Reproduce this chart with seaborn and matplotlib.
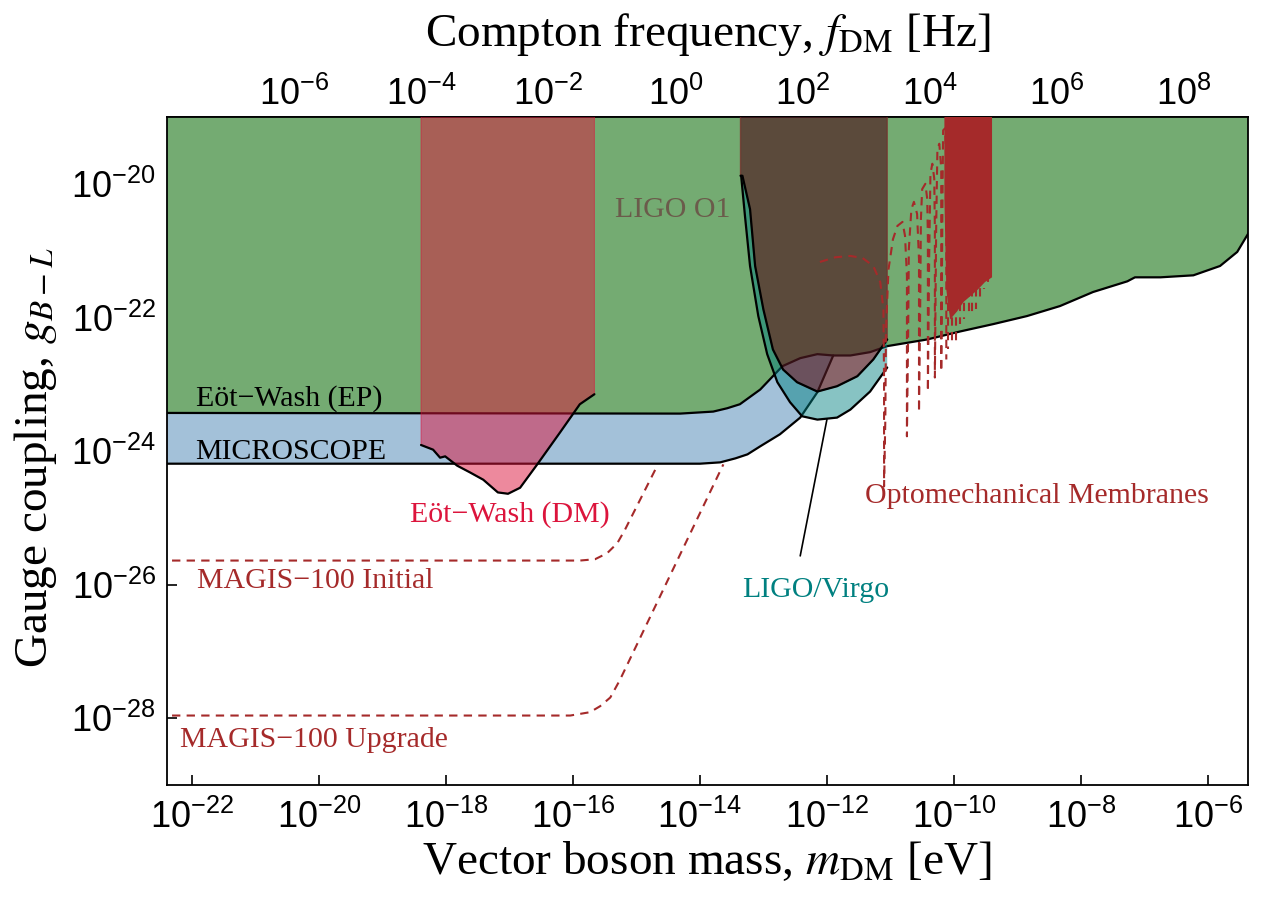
import numpy as np
import matplotlib
matplotlib.use("Agg")
import matplotlib.pyplot as plt
import seaborn as sns
from matplotlib.ticker import NullLocator

# every curve is stored as log10(m_DM / eV) and log10(g_B-L)
# Eot-Wash equivalence principle test (upper edge of the allowed region)
ep_logm = [-22.5, -14.31, -13.79, -13.57, -13.37, -13.05, -12.85, -12.70, -12.42, -12.15,
           -11.90, -11.63, -11.32, -11.05, -10.42, -9.90, -9.38, -8.85, -8.33, -7.81,
           -7.27, -7.15, -6.75, -6.23, -5.81, -5.54, -5.37, -5.3]
ep_logg = [-23.43, -23.44, -23.41, -23.36, -23.30, -23.08, -22.88, -22.73, -22.61, -22.55,
           -22.57, -22.57, -22.52, -22.43, -22.33, -22.21, -22.10, -21.98, -21.83, -21.62,
           -21.46, -21.40, -21.40, -21.37, -21.23, -21.02, -20.75, -20.62]

# MICROSCOPE
ms_logm = [-22.5, -14.00, -13.68, -13.44, -13.25, -13.05, -12.74, -12.42, -12.15, -11.90]
ms_logg = [-24.19, -24.19, -24.17, -24.11, -24.05, -23.93, -23.75, -23.50, -23.12, -22.57]

# Eot-Wash dark matter search
dm_logm = [-18.39, -18.20, -18.09, -18.01, -17.82, -17.62, -17.41, -17.18, -17.02, -16.83,
           -16.56, -16.20, -15.89, -15.66]
dm_logg = [-23.91, -23.98, -24.10, -24.08, -24.22, -24.32, -24.43, -24.62, -24.64, -24.55,
           -24.20, -23.72, -23.30, -23.15]

# LIGO O1
o1_logm = [-13.36, -13.33, -13.21, -13.13, -13.00, -12.85, -12.69, -12.47, -12.15, -11.84,
           -11.52, -11.27, -11.05]
o1_logg = [-19.88, -19.88, -20.38, -21.23, -21.88, -22.48, -22.78, -22.97, -23.11, -23.03,
           -22.88, -22.63, -22.33]

# LIGO/Virgo
lv_logm = [-13.35, -13.29, -13.21, -13.08, -12.94, -12.78, -12.58, -12.39, -12.15, -11.84,
           -11.63, -11.32, -11.05]
lv_logg = [-19.88, -20.48, -21.23, -21.98, -22.55, -22.97, -23.27, -23.48, -23.53, -23.50,
           -23.38, -23.11, -22.75]

# optomechanical membranes: resonance comb (sparse part)
om_logm = [-12.11, -11.87, -11.63, -11.44, -11.27, -11.16, -11.11, -11.10, -11.10, -11.08,
           -11.07, -11.03, -10.96, -10.89, -10.81, -10.77, -10.74, -10.74, -10.72, -10.71,
           -10.67, -10.63, -10.58, -10.55, -10.55, -10.53, -10.52, -10.50, -10.45, -10.42,
           -10.41, -10.41, -10.39, -10.37, -10.34, -10.31, -10.30, -10.30, -10.28, -10.26,
           -10.23, -10.20, -10.20, -10.18, -10.17, -10.14, -10.12, -10.12]
om_logg = [-21.17, -21.10, -21.08, -21.11, -21.23, -21.47, -21.88, -22.93, -24.53, -23.53,
           -22.18, -21.28, -20.83, -20.63, -20.57, -20.78, -21.38, -23.78, -22.18, -20.98,
           -20.38, -20.27, -20.45, -21.13, -23.42, -21.73, -20.53, -20.08, -20.00, -20.23,
           -20.83, -23.11, -21.13, -19.85, -19.70, -19.92, -20.68, -22.90, -20.68, -19.47,
           -19.40, -19.77, -22.81, -20.23, -19.20, -19.17, -19.62, -22.63]
# dense part of the comb (outline) and the dips hanging below it
omd_logm = [-10.15, -9.40, -9.40, -9.51, -9.62, -9.74, -9.85, -9.95, -10.06, -10.12, -10.15]
omd_logg = [-19.0, -19.0, -21.40, -21.47, -21.58, -21.68, -21.77, -21.91, -22.03, -21.58, -20.23]
dip_logm = [-10.09, -10.03, -9.96, -9.90, -9.84, -9.77, -9.71, -9.65, -9.59, -9.52, -9.46]
dip_logg = [-22.48, -22.43, -22.37, -22.10, -22.03, -21.98, -21.92, -21.88, -21.73, -21.58, -21.50]

# MAGIS-100 projections
mi_logm = [-22.31, -15.89, -15.65, -15.46, -15.30, -15.18, -14.66]
mi_logg = [-25.64, -25.64, -25.62, -25.53, -25.38, -25.18, -24.20]
mu_logm = [-22.31, -16.04, -15.73, -15.57, -15.41, -15.26, -13.63]
mu_logg = [-27.96, -27.96, -27.91, -27.82, -27.69, -27.43, -24.20]

EV_TO_HZ = 2.418e14
TOP = 10 ** -18.5

xticks = [10.0 ** e for e in range(-22, -5, 2)]
yticks = [10.0 ** e for e in range(-28, -19, 2)]
fticks = [10.0 ** e for e in range(-6, 9, 2)]

sns.set_style("ticks")
plt.rcParams["font.family"] = ["Liberation Serif", "DejaVu Serif"]
plt.rcParams["mathtext.fontset"] = "stix"
plt.rcParams["axes.linewidth"] = 1.3
for key in ["axes.edgecolor", "xtick.color", "ytick.color", "text.color", "axes.labelcolor"]:
    plt.rcParams[key] = "black"

fig = plt.figure(figsize=(12.61, 9.07), dpi=100)
ax = fig.add_axes([0.1324, 0.1345, 0.8573, 0.7365])
ax.set_xscale("log")
ax.set_yscale("log")


def p10(v):
    return 10.0 ** np.asarray(v)


def to_top(logm, logg):
    x = p10(logm)
    y = p10(logg)
    return np.r_[x[0], x, x[-1]], np.r_[TOP, y, TOP]


def curve(logm, logg, **kw):
    sns.lineplot(x=p10(logm), y=p10(logg), sort=False, estimator=None, ax=ax, **kw)


# MICROSCOPE region, then Eot-Wash EP on top of it
blue_m = ms_logm + [m for m in ep_logm if m > -11.90]
blue_g = ms_logg + [g for m, g in zip(ep_logm, ep_logg) if m > -11.90]
ax.fill(*to_top(blue_m, blue_g), color="#a3c1d9", lw=0, zorder=1)
ax.fill(*to_top(ep_logm, ep_logg), color="#74ab72", lw=0, zorder=2)
curve(ep_logm, ep_logg, color="black", lw=1.6, zorder=3)
curve(ms_logm, ms_logg, color="black", lw=1.6, zorder=3)

# Eot-Wash DM
ax.fill(*to_top(dm_logm, dm_logg), facecolor="crimson", alpha=0.5,
        edgecolor="crimson", lw=0.8, zorder=4)
curve(dm_logm, dm_logg, color="black", lw=1.6, zorder=5)

# LIGO/Virgo band between the two U curves
band_x = np.r_[p10(lv_logm), p10(o1_logm)[::-1]]
band_y = np.r_[p10(lv_logg), p10(o1_logg)[::-1]]
ax.fill(band_x, band_y, color="teal", alpha=0.47, lw=0, zorder=4)

# LIGO O1
ax.fill(*to_top(o1_logm, o1_logg), facecolor="#501a21", alpha=0.67,
        edgecolor="#7a2a2a", lw=1.0, zorder=5)
curve(lv_logm, lv_logg, color="black", lw=1.6, zorder=6)
curve(o1_logm, o1_logg, color="black", lw=1.6, zorder=6)
curve([-12.42, -12.00], [-25.57, -23.53], color="black", lw=1.2, zorder=6)

# optomechanical membranes
ax.fill(p10(omd_logm), p10(omd_logg), color="#a52a2a", lw=0, zorder=7)
curve(om_logm, om_logg, color="#a52a2a", lw=1.5, linestyle=(0, (4, 3)), zorder=7)
ax.vlines(p10(dip_logm), TOP, p10(dip_logg), colors="#a52a2a", lw=1.5,
          linestyles=(0, (4, 3)), zorder=7)

# MAGIS-100
curve(mi_logm, mi_logg, color="#a52a2a", lw=1.5, linestyle=(0, (4, 3)), zorder=7)
curve(mu_logm, mu_logg, color="#a52a2a", lw=1.5, linestyle=(0, (4, 3)), zorder=7)

# labels inside the plot
fs = 21.5
ax.text(10 ** -21.94, 10 ** -23.21, "Eöt\u2212Wash (EP)", fontsize=fs, va="center", zorder=8)
ax.text(10 ** -21.94, 10 ** -24.01, "MICROSCOPE", fontsize=fs, va="center", zorder=8)
ax.text(10 ** -16.99, 10 ** -24.95, "Eöt\u2212Wash (DM)", fontsize=fs, color="crimson",
        ha="center", va="center", zorder=8)
ax.text(10 ** -14.42, 10 ** -20.39, "LIGO O1", fontsize=fs, color="#6b5b4b",
        ha="center", va="center", zorder=8)
ax.text(10 ** -12.18, 10 ** -26.08, "LIGO/Virgo", fontsize=fs, color="teal",
        ha="center", va="center", zorder=8)
ax.text(10 ** -8.70, 10 ** -24.68, "Optomechanical Membranes", fontsize=fs, color="#a52a2a",
        ha="center", va="center", zorder=8)
ax.text(10 ** -21.91, 10 ** -25.95, "MAGIS\u2212100 Initial", fontsize=fs, color="#a52a2a",
        va="center", zorder=8)
ax.text(10 ** -22.18, 10 ** -28.33, "MAGIS\u2212100 Upgrade", fontsize=fs, color="#a52a2a",
        va="center", zorder=8)

ax.set_xlim(10 ** -22.39, 10 ** -5.37)
ax.set_ylim(1e-29, 1e-19)
ax.set_xticks(xticks)
ax.set_yticks(yticks)
ax.xaxis.set_minor_locator(NullLocator())
ax.yaxis.set_minor_locator(NullLocator())
ax.tick_params(direction="in", length=7, width=1.2, labelsize=26,
               labelfontfamily="Liberation Sans", top=False, right=False)
ax.tick_params(axis="x", pad=11)
ax.tick_params(axis="y", pad=8)

secax = ax.secondary_xaxis("top", functions=(lambda m: m * EV_TO_HZ, lambda f: f / EV_TO_HZ))
secax.set_xticks(fticks)
secax.xaxis.set_minor_locator(NullLocator())
secax.tick_params(direction="in", length=7, width=1.2, labelsize=26, pad=3,
                  labelfontfamily="Liberation Sans")
secax.set_xlabel("Compton frequency, $f_{\\rm DM}$ [Hz]", fontsize=34, labelpad=22)

ax.set_xlabel("Vector boson mass, $m_{\\rm DM}$ [eV]", fontsize=34)
ax.xaxis.label.set_va("center")
ax.xaxis.set_label_coords(0.4995, -0.1155)
ax.set_ylabel("Gauge coupling, $g_{B-L}$", fontsize=34)
ax.yaxis.label.set_va("center")
ax.yaxis.set_label_coords(-0.122, 0.49)

fig.savefig("out.png", dpi=100)
